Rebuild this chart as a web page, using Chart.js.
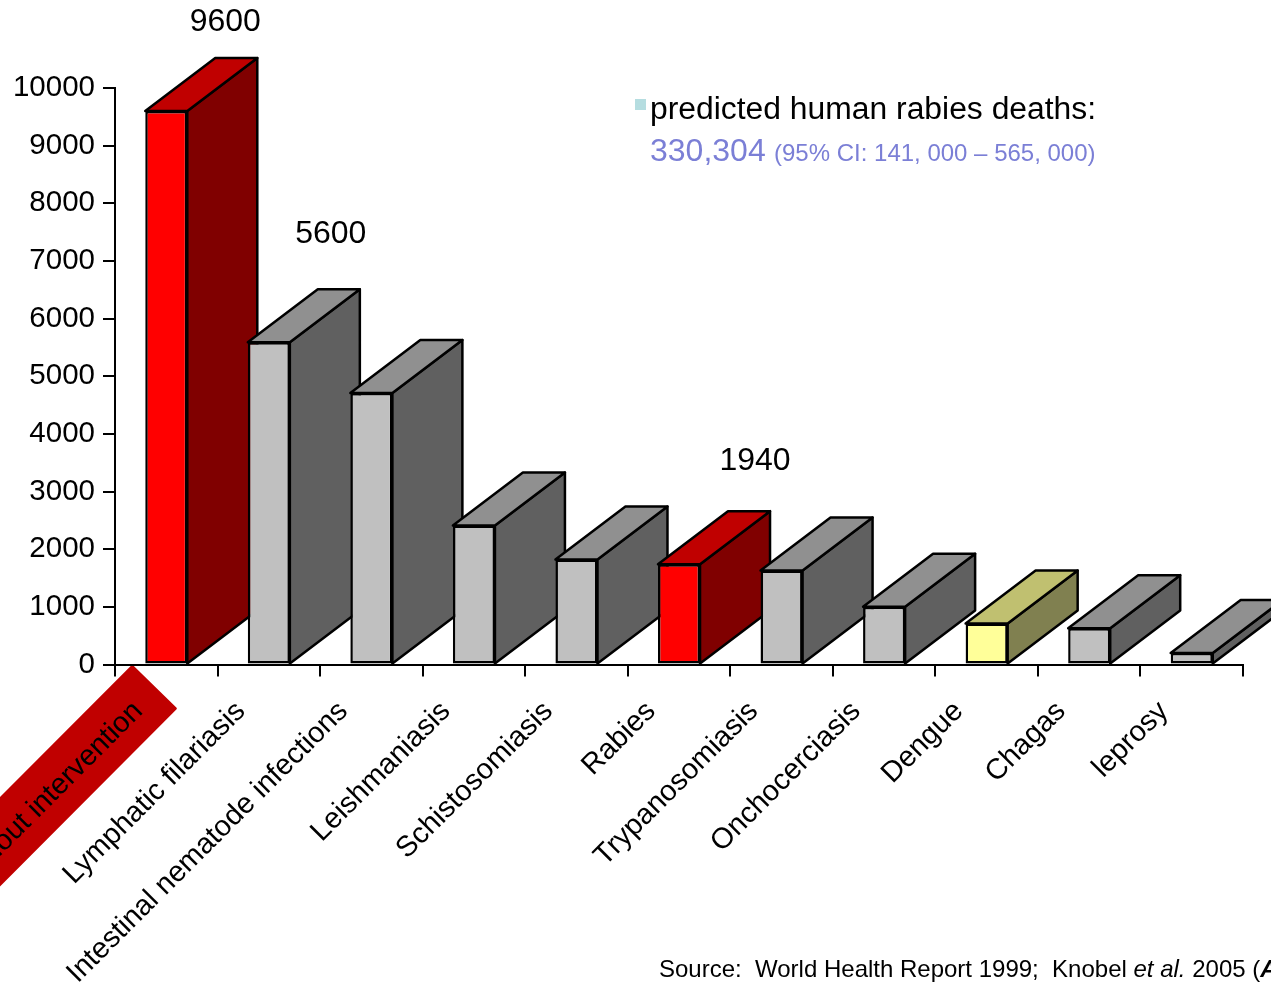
<!DOCTYPE html>
<html>
<head>
<meta charset="utf-8">
<style>
  html, body { margin: 0; padding: 0; background: #fff; overflow: hidden; }
  canvas { display: block; }
</style>
<script src="https://cdn.jsdelivr.net/npm/chart.js@4/dist/chart.umd.min.js"></script>
</head>
<body>
<canvas id="chart" width="1271" height="1001"></canvas>
<script>
let categories = [
  "Rabies without intervention",
  "Lymphatic filariasis",
  "Intestinal nematode infections",
  "Leishmaniasis",
  "Schistosomiasis",
  "Rabies",
  "Trypanosomiasis",
  "Onchocerciasis",
  "Dengue",
  "Chagas",
  "leprosy",
];
let dalys = [9600, 5590, 4710, 2410, 1820, 1740, 1630, 1000, 710, 630, 200];

// hand placed numbers above three of the bars
let callout_texts = ["9600", "5600", "1940"];
let callout_bars = [0, 1, 5];
let callout_shift = [[59, -80], [62, -99], [76, -94]];

let front_colors = ["#ff0000", "#c0c0c0", "#c0c0c0", "#c0c0c0", "#c0c0c0", "#ff0000", "#c0c0c0", "#c0c0c0", "#ffff99", "#c0c0c0", "#c0c0c0"];
let side_colors = ["#800000", "#606060", "#606060", "#606060", "#606060", "#800000", "#606060", "#606060", "#808050", "#606060", "#606060"];
let top_colors = ["#c00000", "#909090", "#909090", "#909090", "#909090", "#c00000", "#909090", "#909090", "#c0c070", "#909090", "#909090"];

let depth_x = 70;
let depth_y = -53;
let font_family = '"Liberation Sans", Arial, sans-serif';

let depthPlugin = {
  id: "depth",
  beforeDatasetsDraw(chart) {
    let ctx = chart.ctx;
    let bars = chart.getDatasetMeta(0).data;
    ctx.save();
    ctx.strokeStyle = "#000";
    ctx.lineWidth = 2.5;
    ctx.lineJoin = "round";
    for (let i = 0; i < bars.length; i++) {
      let bar = bars[i];
      let left = bar.x - bar.width / 2;
      let right = bar.x + bar.width / 2;
      // side face
      ctx.fillStyle = side_colors[i];
      ctx.beginPath();
      ctx.moveTo(right, bar.y);
      ctx.lineTo(right + depth_x, bar.y + depth_y);
      ctx.lineTo(right + depth_x, bar.base + depth_y);
      ctx.lineTo(right, bar.base);
      ctx.closePath();
      ctx.fill();
      ctx.stroke();
      // top face
      ctx.fillStyle = top_colors[i];
      ctx.beginPath();
      ctx.moveTo(left, bar.y);
      ctx.lineTo(left + depth_x, bar.y + depth_y);
      ctx.lineTo(right + depth_x, bar.y + depth_y);
      ctx.lineTo(right, bar.y);
      ctx.closePath();
      ctx.fill();
      ctx.stroke();
    }
    ctx.restore();
  },
};

// red box behind the first category label
let labelBoxPlugin = {
  id: "labelBox",
  beforeDraw(chart) {
    let ctx = chart.ctx;
    let x = chart.scales.x.getPixelForTick(0) - 34;
    let y = chart.scales.x.top + 1;
    ctx.save();
    ctx.fillStyle = "#c00000";
    ctx.strokeStyle = "#c00000";
    ctx.lineJoin = "round";
    ctx.lineWidth = 3;
    ctx.beginPath();
    ctx.moveTo(x, y + 1);
    ctx.lineTo(x + 43, y + 43);
    ctx.lineTo(x - 260, y + 347);
    ctx.lineTo(x - 303, y + 305);
    ctx.closePath();
    ctx.fill();
    ctx.stroke();
    ctx.restore();
  },
};

let notesPlugin = {
  id: "notes",
  afterDraw(chart) {
    let ctx = chart.ctx;
    let bars = chart.getDatasetMeta(0).data;
    ctx.save();
    ctx.textBaseline = "alphabetic";
    ctx.textAlign = "center";
    ctx.fillStyle = "#000";
    ctx.font = "32px " + font_family;
    for (let i = 0; i < callout_texts.length; i++) {
      let bar = bars[callout_bars[i]];
      ctx.fillText(callout_texts[i], bar.x + callout_shift[i][0], bar.y + callout_shift[i][1]);
    }

    ctx.textAlign = "left";
    ctx.fillStyle = "#b5dde0";
    ctx.fillRect(635, 99, 11, 11);
    ctx.fillStyle = "#000";
    ctx.font = "31.85px " + font_family;
    ctx.fillText("predicted human rabies deaths:", 650, 119);
    ctx.fillStyle = "#7b7fd6";
    ctx.font = "32px " + font_family;
    ctx.fillText("330,304", 650, 161);
    ctx.font = "24px " + font_family;
    ctx.fillText("(95% CI: 141, 000 \u2013 565, 000)", 774, 161);

    ctx.fillStyle = "#000";
    ctx.font = "24px " + font_family;
    ctx.fillText("Source:  World Health Report 1999;  Knobel ", 659, 977);
    let x = 659 + ctx.measureText("Source:  World Health Report 1999;  Knobel ").width;
    ctx.font = "italic 24px " + font_family;
    ctx.fillText("et al.", x, 977);
    x += ctx.measureText("et al.").width;
    ctx.font = "24px " + font_family;
    ctx.fillText(" 2005 (", x, 977);
    x += ctx.measureText(" 2005 (").width;
    ctx.font = "italic bold 24px " + font_family;
    ctx.fillText("A", x, 977);
    ctx.restore();
  },
};

let chart = new Chart(document.getElementById("chart"), {
  type: "bar",
  data: {
    labels: categories,
    datasets: [
      {
        data: dalys,
        backgroundColor: front_colors,
        borderColor: "#000",
        borderWidth: 2.5,
        borderSkipped: false,
        barPercentage: 0.41,
        categoryPercentage: 1,
      },
    ],
  },
  plugins: [labelBoxPlugin, depthPlugin, notesPlugin],
  options: {
    responsive: false,
    animation: false,
    layout: { padding: { top: 88, right: 28, left: 0, bottom: 0 } },
    plugins: { legend: { display: false }, tooltip: { enabled: false } },
    scales: {
      x: {
        offset: true,
        border: { color: "#000", width: 2 },
        grid: { offset: true, drawOnChartArea: false, color: "#000", lineWidth: 2, tickLength: 12 },
        ticks: {
          color: "#000",
          font: { family: font_family, size: 29 },
          autoSkip: false,
          minRotation: 45,
          maxRotation: 45,
          padding: 18,
          labelOffset: -28,
        },
        afterFit(scale) {
          scale.height = 336.5;
          scale.paddingLeft = 0;
          scale.paddingRight = 0;
        },
      },
      y: {
        min: 0,
        max: 10000,
        border: { color: "#000", width: 2 },
        grid: { drawOnChartArea: false, color: "#000", lineWidth: 2, tickLength: 12 },
        ticks: {
          stepSize: 1000,
          color: "#000",
          font: { family: font_family, size: 29.5 },
          padding: 8,
          callback: (value) => String(value),
        },
        afterFit(scale) {
          scale.width = 115;
          scale.paddingTop = 0;
          scale.paddingBottom = 0;
        },
      },
    },
  },
});
</script>
</body>
</html>
